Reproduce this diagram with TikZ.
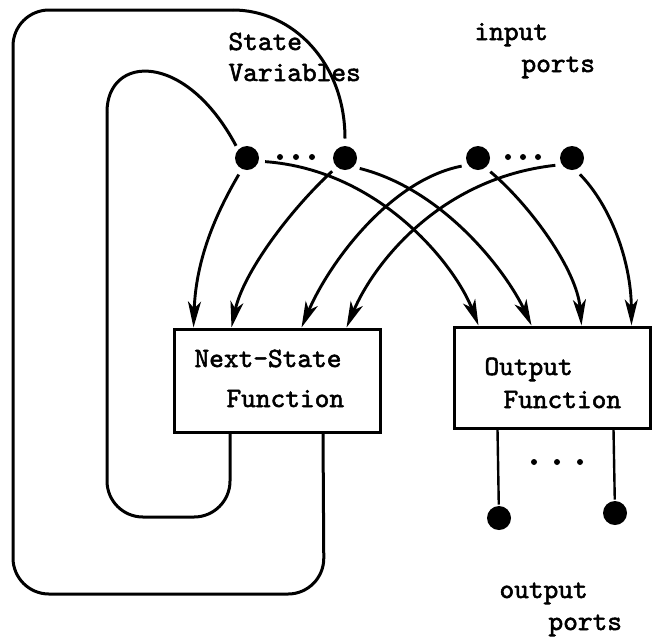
\documentclass[tikz,border=0pt]{standalone}
\usepackage{fontspec}
\newfontfamily\tw{lmmono10-regular.otf}[FakeBold=2]
\usetikzlibrary{arrows.meta}
\begin{document}
\begin{tikzpicture}[x=1pt,y=-1pt,
  line width=3pt,
  dot/.style={circle,fill,inner sep=0pt,minimum size=24pt},
  fbox/.style={draw,line width=3pt,inner sep=0pt},
  lbl/.style={font=\tw\bfseries\fontsize{28}{28}\selectfont,anchor=base west,inner sep=0pt},
  arr/.style={-{Stealth[length=26pt,width=13pt,inset=7pt]},line width=2.9pt,shorten <=5pt},
  loopline/.style={line width=3pt,rounded corners=36pt},
  curveline/.style={line width=3pt},
  edot/.style={circle,fill,inner sep=0pt,minimum size=6pt}]
\fill[white] (0,0) rectangle (652,638);
\useasboundingbox (0,0) rectangle (652,638);

% boxes
\node[fbox,minimum width=206pt,minimum height=103pt] (ns) at (277,380.5) {};
\node[fbox,minimum width=196pt,minimum height=101pt] (oo) at (552,377.5) {};

% labels
\node[lbl] (t1) at (193,367) {Next-State};
\node[lbl] (t2) at (225,407) {Function};
\node[lbl] (t3) at (483,375) {Output};
\node[lbl] (t4) at (502,408) {Function};
\node[lbl] (t5) at (227,50) {State};
\node[lbl] (t6) at (227,81) {Variables};
\node[lbl] (t7) at (473,40) {input};
\node[lbl] (t8) at (520,72) {ports};
\node[lbl] (t9) at (498,598) {output};
\node[lbl] (t10) at (547,630) {ports};

% port dots
\node[dot] (sv1) at (247,158) {};
\node[dot] (sv2) at (345,158) {};
\node[dot] (in1) at (478,158) {};
\node[dot] (in2) at (572,158) {};
\node[dot] (op1) at (499,518) {};
\node[dot] (op2) at (615,513) {};

% ellipses
\node[edot] (e1) at (280,157) {};
\node[edot] (e2) at (296,157) {};
\node[edot] (e3) at (312,157) {};
\node[edot] (e4) at (508,157) {};
\node[edot] (e5) at (523,157) {};
\node[edot] (e6) at (538,157) {};
\node[edot] (e7) at (534,462) {};
\node[edot] (e8) at (557,462) {};
\node[edot] (e9) at (580,462) {};

% feedback loops
\coordinate (ok) at (233,10);
\coordinate (ik) at (107,112);
\draw[loopline] ([xshift=46pt]ns.south) -- (324,594) -- (13,594) -- (13,10) -- (ok);
\draw[curveline,shorten >=6pt] (ok) .. controls (292,10) and (345,62) .. (sv2.north);
\draw[loopline] ([xshift=-47pt]ns.south) -- (230,517) -- (107,517) -- (ik);
\draw[curveline,shorten >=3pt] (ik) .. controls (107,55) and (185,50) .. (sv1.north west);

% arrows into next-state function
\draw[arr] (sv1.245) .. controls (215,215) and (196,260) .. ([xshift=21pt]ns.north west);
\draw[arr] (sv2.227) .. controls (290,210) and (243,273) .. ([xshift=59pt]ns.north west);
\draw[arr] (in1.212) .. controls (390,180) and (329,263) .. ([xshift=129pt]ns.north west);
\draw[arr] (in2.210) .. controls (440,178) and (374,263) .. ([xshift=174pt]ns.north west);
% arrows into output function
\draw[arr] (sv1.346) .. controls (380,170) and (455,265) .. ([xshift=26pt]oo.north west);
\draw[arr] (sv2.317) .. controls (445,190) and (507,273) .. ([xshift=79pt]oo.north west);
\draw[arr] (in1.309) .. controls (530,205) and (577,270) .. ([xshift=129pt]oo.north west);
\draw[arr] (in2.289) .. controls (610,205) and (631,260) .. ([xshift=179pt]oo.north west);

% output legs
\draw[line width=2.4pt] ([xshift=45pt]oo.south west) -- (op1);
\draw[line width=2.4pt] ([xshift=161pt]oo.south west) -- (op2);
\end{tikzpicture}
\end{document}
